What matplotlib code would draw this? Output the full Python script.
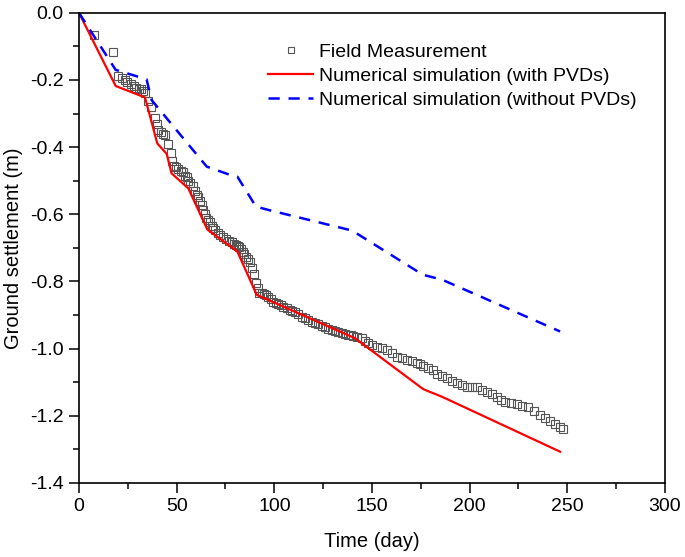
import numpy as np
import matplotlib
matplotlib.use("Agg")
import matplotlib.pyplot as plt
from matplotlib.ticker import MultipleLocator

plt.rcParams['font.family'] = ['Liberation Sans', 'DejaVu Sans']
plt.rcParams['axes.unicode_minus'] = False

# Messwerte (Feld)
t_field = [7.7, 17.6, 19.8, 21.9, 23.5, 24.7, 26.6, 28, 29, 30.7, 32, 32.9, 33.8, 35.5, 36.9,
           38.9, 39.8, 40.7, 41.8, 43, 44, 45.8, 46.9, 47.5, 48.6, 49.8, 50.8, 52, 53.4, 54.3,
           55.1, 56, 57, 58.2, 59.4, 60.2, 61.1, 61.9, 62.8, 63.7, 64.4, 65, 66, 67, 67.9,
           68.8, 69.6, 71, 72.2, 73.8, 75.3, 76.8, 78.2, 79.3, 80.4, 81.2, 82.1, 83, 83.8,
           84.6, 85.5, 86.5, 87.6, 88.4, 89.6, 90.6, 91.4, 92.3, 93.5, 94.7, 95.8, 96.9, 98.2,
           99.5, 100.8, 102, 103.3, 104.6, 106.3, 108, 109.3, 110.6, 112.3, 114, 115.7, 117.4,
           119.1, 120.8, 122.5, 124.3, 126, 127.7, 129.4, 131.1, 132.8, 134.5, 136.2, 137.9,
           139.5, 140.5, 142.5, 144.7, 146.4, 148.1, 150.2, 152.4, 155, 157.5, 160, 162.7,
           165.2, 167.8, 170.3, 172.9, 174.6, 176.3, 178.8, 181.4, 183.1, 185.6, 188.2, 190.8,
           193.4, 196, 198.5, 201, 203.6, 206.1, 208.7, 211.3, 213.9, 216, 218.1, 221, 224.1,
           227, 230, 233, 236, 238.6, 241.2, 243.8, 246.3, 248]
s_field = [-0.066, -0.118, -0.188, -0.195, -0.2, -0.205, -0.212, -0.218, -0.223, -0.226, -0.228,
           -0.232, -0.239, -0.262, -0.28, -0.312, -0.332, -0.349, -0.354, -0.36, -0.364, -0.391,
           -0.418, -0.441, -0.455, -0.46, -0.465, -0.47, -0.475, -0.486, -0.49, -0.5, -0.506,
           -0.516, -0.53, -0.543, -0.55, -0.56, -0.572, -0.587, -0.6, -0.612, -0.618, -0.622,
           -0.635, -0.64, -0.647, -0.655, -0.662, -0.668, -0.674, -0.68, -0.684, -0.688, -0.691,
           -0.694, -0.698, -0.704, -0.711, -0.718, -0.726, -0.733, -0.741, -0.761, -0.778,
           -0.804, -0.82, -0.833, -0.835, -0.837, -0.841, -0.845, -0.852, -0.86, -0.864, -0.867,
           -0.871, -0.875, -0.88, -0.885, -0.887, -0.89, -0.898, -0.905, -0.91, -0.915, -0.92,
           -0.924, -0.928, -0.932, -0.937, -0.942, -0.946, -0.949, -0.952, -0.954, -0.956,
           -0.959, -0.96, -0.962, -0.965, -0.969, -0.977, -0.984, -0.989, -0.994, -0.999,
           -1.004, -1.014, -1.024, -1.029, -1.034, -1.038, -1.043, -1.047, -1.051, -1.058,
           -1.065, -1.075, -1.081, -1.088, -1.096, -1.103, -1.109, -1.113, -1.115, -1.115,
           -1.122, -1.128, -1.136, -1.145, -1.152, -1.158, -1.162, -1.165, -1.17, -1.175,
           -1.186, -1.197, -1.207, -1.217, -1.225, -1.232, -1.24]

# Simulation mit PVDs
t_pvd = [0, 18.8, 33.8, 40.1, 44.9, 47.4, 56, 65.7, 81.1, 91, 141.3, 176.3, 185.7, 246.3]
s_pvd = [0, -0.218, -0.252, -0.389, -0.42, -0.478, -0.523, -0.645, -0.711, -0.84, -0.969,
         -1.121, -1.143, -1.307]

# Simulation ohne PVDs
t_nopvd = [0, 18.8, 34.6, 37.2, 65.4, 78, 81.1, 90.6, 96.9, 138.8, 143, 176, 186, 246.3]
s_nopvd = [0, -0.17, -0.198, -0.26, -0.458, -0.484, -0.488, -0.577, -0.587, -0.647, -0.66,
           -0.78, -0.795, -0.949]

fig = plt.figure(figsize=(6.85, 5.57), dpi=100)
ax = fig.add_axes([0.1153, 0.133, 0.8555, 0.844])

ax.plot(t_field, s_field, 's', mfc='none', mec='#555555', mew=0.8, ms=5.3,
        label="Field Measurement")
ax.plot(t_pvd, s_pvd, '-', color='#ff0000', lw=1.6, label="Numerical simulation (with PVDs)")
ax.plot(t_nopvd, s_nopvd, '--', color='#0000ff', lw=1.8, dashes=(4.5, 3.5),
        label="Numerical simulation (without PVDs)")

ax.set_xlim(0, 300)
ax.set_ylim(-1.4, 0)
ax.xaxis.set_major_locator(MultipleLocator(50))
ax.xaxis.set_minor_locator(MultipleLocator(25))
ax.yaxis.set_major_locator(MultipleLocator(0.2))
ax.yaxis.set_minor_locator(MultipleLocator(0.1))
ax.yaxis.set_major_formatter(plt.FuncFormatter(lambda v, p: "%.1f" % v))
ax.tick_params(which='major', direction='out', length=7, width=1.1, labelsize=14,
               top=False, right=False, pad=4)
ax.tick_params(which='minor', direction='out', length=4, width=1.1, top=False, right=False)
for sp in ax.spines.values():
    sp.set_linewidth(1.2)

ax.set_xlabel("Time (day)", fontsize=14.5, labelpad=12)
ax.set_ylabel("Ground settlement (m)", fontsize=14.5, labelpad=5)

leg = ax.legend(loc='upper left', bbox_to_anchor=(0.31, 0.952), frameon=False, fontsize=14,
                handlelength=2.3, handletextpad=0.3, labelspacing=0.34, borderaxespad=0,
                markerscale=0.85)

fig.savefig("out.png", dpi=100)
